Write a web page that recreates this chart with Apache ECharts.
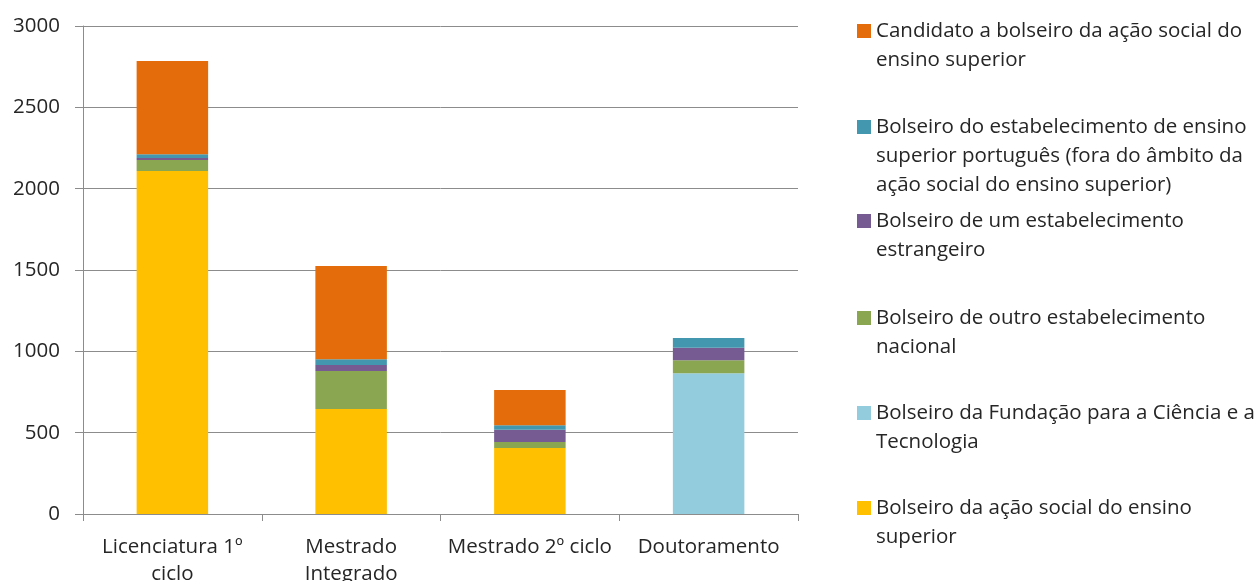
<!DOCTYPE html>
<html>
<head>
<meta charset="utf-8">
<script src="https://cdn.jsdelivr.net/npm/echarts@6/dist/echarts.min.js"></script>
<style>
html,body{margin:0;padding:0;background:#fff;}
#c{width:1258px;height:581px;}
</style>
</head>
<body>
<div id="c"></div>
<script>
const categories = ['Licenciatura 1º\nciclo', 'Mestrado\nIntegrado', 'Mestrado 2º ciclo', 'Doutoramento'];
const yTicks = [0, 500, 1000, 1500, 2000, 2500, 3000];

const seriesNames = [
  'Bolseiro da ação social do ensino superior',
  'Bolseiro da Fundação para a Ciência e a Tecnologia',
  'Bolseiro de outro estabelecimento nacional',
  'Bolseiro de um estabelecimento estrangeiro',
  'Bolseiro do estabelecimento de ensino superior português (fora do âmbito da ação social do ensino superior)',
  'Candidato a bolseiro da ação social do ensino superior'
];
const legendLabels = [
  'Bolseiro da ação social do ensino\nsuperior',
  'Bolseiro da Fundação para a Ciência e a\nTecnologia',
  'Bolseiro de outro estabelecimento\nnacional',
  'Bolseiro de um estabelecimento\nestrangeiro',
  'Bolseiro do estabelecimento de ensino\nsuperior português (fora do âmbito da\nação social do ensino superior)',
  'Candidato a bolseiro da ação social do\nensino superior'
];

const acaoSocial   = [2108, 645, 406, 0];
const fct          = [0, 0, 0, 865];
const outroNac     = [68, 234, 37, 80];
const estrangeiro  = [12, 37, 75, 77];
const estabPt      = [23, 35, 27, 60];
const candidato    = [574, 574, 217, 0];

const seriesData = [acaoSocial, fct, outroNac, estrangeiro, estabPt, candidato];
const colors = ['#FFC000', '#93CDDD', '#8BA650', '#765B92', '#4398AF', '#E46C0A'];

const FONT = 'Open Sans';
const FS = 20.5;
const LH = 29;
const legendFirstLineY = [508, 413, 318, 221, 127, 31]; // per series index (bottom to top)

const legends = seriesNames.map(function (name, i) {
  const label = legendLabels[i];
  const n = label.split('\n').length;
  // leading blank lines so the first real line sits at the block centre (beside the marker)
  const shown = new Array(n).join('\n') + label;
  return {
    show: true,
    orient: 'vertical',
    left: 857,
    top: legendFirstLineY[i] - (2 * n - 1) * LH / 2,
    padding: 0,
    itemWidth: 14,
    itemHeight: 14,
    icon: 'rect',
    itemStyle: { borderWidth: 0 },
    data: [name],
    formatter: function () { return shown; },
    textStyle: {
      fontFamily: FONT,
      fontSize: FS,
      color: '#262626',
      lineHeight: LH
    }
  };
});

const series = seriesNames.map(function (name, i) {
  return {
    name: name,
    type: 'bar',
    stack: 'total',
    barWidth: '40%',
    data: seriesData[i],
    itemStyle: { color: colors[i] },
    emphasis: { disabled: true }
  };
});

const chart = echarts.init(document.getElementById('c'), null, { renderer: 'canvas' });
chart.setOption({
  animation: false,
  backgroundColor: '#fff',
  grid: { left: 83, right: 460, top: 26, bottom: 67, containLabel: false, outerBoundsMode: 'none' },
  legend: legends,
  xAxis: {
    type: 'category',
    data: categories,
    axisLine: { lineStyle: { color: '#8c8c8c', width: 1 } },
    axisTick: { show: true, length: 7, lineStyle: { color: '#8c8c8c' } },
    axisLabel: {
      interval: 0,
      margin: 20,
      fontFamily: FONT,
      fontSize: FS,
      color: '#262626',
      lineHeight: 27
    },
    splitLine: { show: false }
  },
  yAxis: {
    type: 'value',
    min: yTicks[0],
    max: yTicks[yTicks.length - 1],
    interval: 500,
    axisLine: { show: true, lineStyle: { color: '#8c8c8c', width: 1 } },
    axisTick: { show: true, length: 8, lineStyle: { color: '#8c8c8c' } },
    axisLabel: {
      margin: 23,
      fontFamily: FONT,
      fontSize: FS,
      color: '#262626',
      formatter: function (v) { return String(v); }
    },
    splitLine: { show: true, lineStyle: { color: '#8c8c8c', width: 1 } }
  },
  series: series
});
</script>
</body>
</html>
